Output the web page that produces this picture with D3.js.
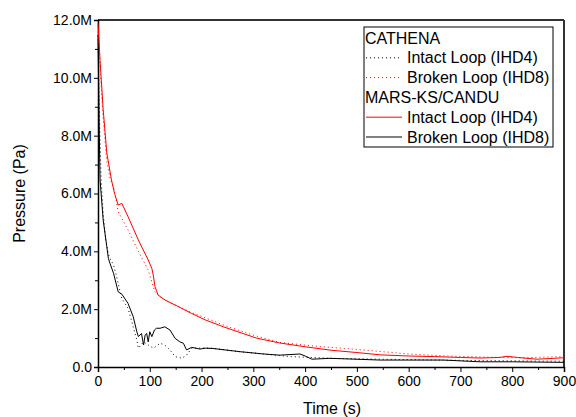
<!DOCTYPE html>
<html lang="en">
<head>
    <meta charset="UTF-8">
    <title>Pressure vs Time</title>
    <script src="https://d3js.org/d3.v7.min.js"></script>
    <style>
        body {
            margin: 0;
            padding: 0;
            background: #fff;
            font-family: "Liberation Sans", Arial, sans-serif;
        }
        svg text { fill: #000; }
    </style>
</head>
<body>
    <svg width="576" height="417"></svg>
    <script>
        // time (s), pressure (MPa)
        const marsIntact = [
            [0, 11.9], [4, 10.6], [10, 8.9], [17, 7.4], [26, 6.47], [32, 6.0], [39, 5.6],
            [46, 5.66], [58, 5.2], [78, 4.39], [97, 3.7], [104, 3.41], [107, 3.15],
            [110, 2.78], [116, 2.49], [129, 2.32], [155, 2.09], [181, 1.85], [207, 1.63],
            [242, 1.39], [306, 1.0], [351, 0.83], [400, 0.7], [450, 0.58], [500, 0.5],
            [545, 0.42], [600, 0.38], [650, 0.36], [700, 0.33], [738, 0.31], [775, 0.33],
            [790, 0.37], [810, 0.33], [848, 0.27], [880, 0.3], [900, 0.32]
        ];
        const marsBroken = [
            [0, 11.5], [2, 8.6], [4, 6.47], [10, 5.08], [17, 4.16], [20, 3.76], [23, 3.59],
            [30, 3.24], [39, 2.6], [46, 2.52], [58, 2.2], [68, 1.74], [75, 1.22],
            [78, 1.05], [84, 1.16], [88, 0.76], [91, 1.1], [94, 1.16], [97, 0.87],
            [100, 1.22], [104, 1.05], [109, 1.28], [113, 1.34], [120, 1.34], [129, 1.39],
            [139, 1.28], [149, 0.99], [158, 0.87], [165, 0.82], [171, 0.59], [181, 0.68],
            [197, 0.62], [207, 0.65], [222, 0.64], [274, 0.53], [320, 0.45], [351, 0.41],
            [390, 0.45], [400, 0.38], [413, 0.27], [448, 0.3], [545, 0.24], [667, 0.24],
            [738, 0.18], [800, 0.18], [900, 0.16]
        ];
        const cathenaIntact = [
            [0, 11.6], [3, 8.5], [6, 6.5], [10, 5.3], [15, 4.4], [20, 3.9], [23, 3.76],
            [30, 3.53], [36, 3.12], [42, 2.66], [46, 2.37], [58, 2.03], [68, 1.39],
            [75, 0.93], [78, 0.65], [88, 0.87], [97, 0.76], [107, 0.65], [120, 0.82],
            [129, 0.76], [139, 0.59], [149, 0.36], [162, 0.3], [171, 0.41], [181, 0.65],
            [216, 0.66], [274, 0.53], [371, 0.36], [450, 0.3], [545, 0.27], [738, 0.22],
            [900, 0.2]
        ];
        const cathenaBroken = [
            [0, 11.8], [4, 10.3], [10, 8.6], [17, 7.1], [24, 6.47], [30, 6.24], [39, 5.37],
            [58, 4.74], [78, 4.0], [97, 3.35], [104, 2.95], [110, 2.6], [120, 2.42],
            [142, 2.2], [181, 1.88], [250, 1.4], [300, 1.1], [351, 0.85], [420, 0.72],
            [512, 0.59], [600, 0.45], [674, 0.38], [750, 0.34], [820, 0.32], [900, 0.36]
        ];

        const xTicks = [0, 100, 200, 300, 400, 500, 600, 700, 800, 900];
        const yTicks = [0, 2, 4, 6, 8, 10, 12];
        const yTickLabels = ["0.0", "2.0M", "4.0M", "6.0M", "8.0M", "10.0M", "12.0M"];

        const legendItems = [
            {text: "CATHENA", header: true},
            {text: "Intact Loop (IHD4)", color: "#000", dash: "1,3"},
            {text: "Broken Loop (IHD8)", color: "red", dash: "1,3"},
            {text: "MARS-KS/CANDU", header: true},
            {text: "Intact Loop (IHD4)", color: "red", dash: null},
            {text: "Broken Loop (IHD8)", color: "#000", dash: null}
        ];

        const svg = d3.select("svg"),
              margin = {top: 20, right: 12, bottom: 50, left: 98},
              width = 576 - margin.left - margin.right,
              height = 417 - margin.top - margin.bottom,
              g = svg.append("g").attr("transform", `translate(${margin.left},${margin.top})`);

        const x = d3.scaleLinear().domain([0, 900]).range([0, width]);
        const y = d3.scaleLinear().domain([0, 12]).range([height, 0]);

        // frame (top + right)
        g.append("line").attr("x1", 0).attr("x2", width).attr("y1", 0).attr("y2", 0)
         .attr("stroke", "#333").attr("stroke-width", 2);
        g.append("line").attr("x1", width).attr("x2", width).attr("y1", 0).attr("y2", height)
         .attr("stroke", "#333").attr("stroke-width", 2);

        // minor ticks
        g.append("g")
         .attr("transform", `translate(0,${height})`)
         .call(d3.axisBottom(x).tickValues(d3.range(50, 900, 100)).tickSize(3).tickFormat(""))
         .call(a => a.select(".domain").remove());
        g.append("g")
         .call(d3.axisLeft(y).tickValues(d3.range(1, 12, 2)).tickSize(3).tickFormat(""))
         .call(a => a.select(".domain").remove());

        const xAxis = g.append("g")
         .attr("transform", `translate(0,${height})`)
         .call(d3.axisBottom(x).tickValues(xTicks).tickSize(5).tickPadding(4));
        const yAxis = g.append("g")
         .call(d3.axisLeft(y).tickValues(yTicks).tickSize(4).tickPadding(2)
               .tickFormat((d, i) => yTickLabels[i]));

        [xAxis, yAxis].forEach(a => {
            a.selectAll("text").style("font-size", "14px").style("font-family", "Liberation Sans, Arial, sans-serif");
            a.select(".domain").attr("stroke-width", 1.5);
        });
        g.selectAll(".tick line").attr("stroke", "#000");

        // axis titles
        svg.append("text")
           .attr("x", 332)
           .attr("y", 414)
           .style("font-size", "16px")
           .style("text-anchor", "middle")
           .text("Time (s)");

        svg.append("text")
           .attr("transform", "rotate(-90)")
           .attr("x", -(margin.top + height / 2))
           .attr("y", 25)
           .style("font-size", "16px")
           .style("text-anchor", "middle")
           .text("Pressure (Pa)");

        const line = d3.line().x(d => x(d[0])).y(d => y(d[1]));

        const plot = g.append("g");
        plot.append("path").datum(cathenaBroken).attr("d", line)
            .attr("fill", "none").attr("stroke", "red").attr("stroke-width", 1)
            .attr("stroke-dasharray", "1,3");
        plot.append("path").datum(cathenaIntact).attr("d", line)
            .attr("fill", "none").attr("stroke", "#000").attr("stroke-width", 1)
            .attr("stroke-dasharray", "1,3");
        plot.append("path").datum(marsBroken).attr("d", line)
            .attr("fill", "none").attr("stroke", "#000").attr("stroke-width", 1);
        plot.append("path").datum(marsIntact).attr("d", line)
            .attr("fill", "none").attr("stroke", "red").attr("stroke-width", 1);

        // legend
        const lg = svg.append("g").attr("transform", "translate(364,27)");
        lg.append("rect").attr("width", 189).attr("height", 120)
          .attr("fill", "#fff").attr("stroke", "#000").attr("stroke-width", 1);
        legendItems.forEach((it, i) => {
            const yy = 11 + i * 19.8;
            if (it.header) {
                lg.append("text").attr("x", 1).attr("y", yy).attr("dy", "0.35em")
                  .style("font-size", "16px").text(it.text);
            } else {
                lg.append("line").attr("x1", 2).attr("x2", 38).attr("y1", yy).attr("y2", yy)
                  .attr("stroke", it.color).attr("stroke-width", 1)
                  .attr("stroke-dasharray", it.dash);
                lg.append("text").attr("x", 43).attr("y", yy).attr("dy", "0.35em")
                  .style("font-size", "16px").text(it.text);
            }
        });
    </script>
</body>
</html>
